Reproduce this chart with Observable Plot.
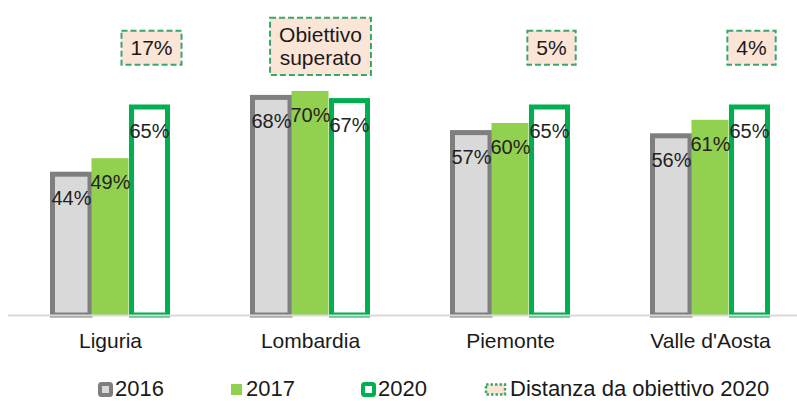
<!DOCTYPE html>
<html>
<head>
<meta charset="utf-8">
<script src="https://cdn.jsdelivr.net/npm/d3@7"></script>
<script src="https://cdn.jsdelivr.net/npm/@observablehq/plot@0.6"></script>
<style>
  html, body { margin: 0; padding: 0; background: #fff; }
  body { width: 797px; height: 401px; overflow: hidden; font-family: "Liberation Sans", Arial, sans-serif; }
  #legend { position: relative; width: 797px; height: 36px; color: #1a1a1a; font-size: 22px; }
  #legend .item { position: absolute; top: 12px; height: 24px; display: flex; align-items: center; line-height: 24px; }
  #legend svg { display: block; margin-right: 2px; }
</style>
</head>
<body>
<div id="chart"></div>
<div id="legend"></div>
<script>
// ---- data ----
const regions = ["Liguria", "Lombardia", "Piemonte", "Valle d'Aosta"];
const years = ["2016", "2017", "2020"];
const v2016 = [44, 68, 57, 56];
const v2017 = [49, 70, 60, 61];
const v2020 = [65, 67, 65, 65];
const distanza = ["17%", "Obiettivo\nsuperato", "5%", "4%"];
const legendLabels = ["2016", "2017", "2020", "Distanza da obiettivo 2020"];

const seriesByYear = {"2016": v2016, "2017": v2017, "2020": v2020};
const rows = years.flatMap(y => regions.map((r, i) => ({region: r, year: y, value: seriesByYear[y][i]})));
const annots = regions.map((r, i) => ({region: r, text: distanza[i]}));

const C16s = "#7f7f7f", C16f = "#d9d9d9", C17 = "#92d050", C20 = "#00b050";
const FONT = "Liberation Sans, Arial, sans-serif";

const byYear = y => rows.filter(d => d.year === y);
const lbl = d => d.value + "%";

const chart = Plot.plot({
  width: 797,
  height: 365,
  marginTop: 27,
  marginBottom: 50,
  marginLeft: 8,
  marginRight: 0,
  style: {fontFamily: FONT, color: "#262626", background: "#fff"},
  x: {domain: regions, range: [10, 810], paddingInner: 0.4, paddingOuter: 0.2},
  y: {domain: [0, 90], axis: null},
  marks: [
    Plot.barY(byYear("2016"), {x: "region", y: "value", fill: C16f, stroke: C16s, strokeWidth: 5, insetLeft: 2.5, insetRight: 80}),
    Plot.barY(byYear("2017"), {x: "region", y: "value", fill: C17, insetLeft: 41.5, insetRight: 41.5}),
    Plot.barY(byYear("2020"), {x: "region", y: "value", fill: "#fff", stroke: C20, strokeWidth: 5, insetLeft: 81.5, insetRight: 2.5}),
    Plot.ruleY([0], {stroke: "#d9d9d9", strokeWidth: 2}),
    Plot.text(byYear("2016"), {x: "region", y: "value", text: lbl, dx: -39, dy: 24, fontSize: 20, fill: "#222", lineAnchor: "middle"}),
    Plot.text(byYear("2017"), {x: "region", y: "value", text: lbl, dx: 0, dy: 24, fontSize: 20, fill: "#222", lineAnchor: "middle"}),
    Plot.text(byYear("2020"), {x: "region", y: "value", text: lbl, dx: 39, dy: 24, fontSize: 20, fill: "#222", lineAnchor: "middle"}),
    Plot.text(annots.filter(d => !d.text.includes("\n")), {x: "region", text: "text", frameAnchor: "top", dx: 41, dy: 21, fontSize: 21, fill: "#1a1a1a", lineAnchor: "middle"}),
    Plot.text(annots.filter(d => d.text.includes("\n")), {x: "region", text: "text", frameAnchor: "top", dx: 10, dy: 19, fontSize: 21, lineHeight: 1.1, fill: "#1a1a1a", lineAnchor: "middle"}),
    Plot.axisX({tickSize: 0, tickPadding: 18, fontSize: 21, fill: "#1a1a1a", label: null})
  ]
});
document.getElementById("chart").append(chart);

// boxes behind the annotation texts
const NS = "http://www.w3.org/2000/svg";
const annotTexts = new Set(distanza.map(s => s.replace(/\n/g, "")));
chart.querySelectorAll("text").forEach(t => {
  if (!annotTexts.has(t.textContent)) return;
  const b = t.getBBox();
  const padX = 9, padY = 5.5;
  const r = document.createElementNS(NS, "rect");
  r.setAttribute("x", b.x - padX);
  r.setAttribute("y", b.y - padY);
  r.setAttribute("width", b.width + 2 * padX);
  r.setAttribute("height", b.height + 2 * padY);
  r.setAttribute("fill", "#fbe5d6");
  r.setAttribute("stroke", "#3aa66a");
  r.setAttribute("stroke-width", 2);
  r.setAttribute("stroke-dasharray", "6 3");
  if (t.getAttribute("transform")) r.setAttribute("transform", t.getAttribute("transform"));
  t.parentNode.insertBefore(r, t);
});

// legend
const sw = [
  `<svg width="15" height="15"><rect x="2" y="2" width="11" height="11" rx="1.5" fill="${C16f}" stroke="${C16s}" stroke-width="4"/></svg>`,
  `<svg width="15" height="15"><rect x="2" y="2" width="11" height="11" fill="${C17}"/></svg>`,
  `<svg width="15" height="15"><rect x="2" y="2" width="11" height="11" rx="1.5" fill="#fff" stroke="${C20}" stroke-width="4"/></svg>`,
  `<svg width="24" height="15"><rect x="2" y="2.5" width="19" height="10" fill="#fbe5d6" stroke="#3aa66a" stroke-width="2.5" stroke-dasharray="2.5 2"/></svg>`
];
const lefts = [98, 229, 361, 484];
const leg = document.getElementById("legend");
legendLabels.forEach((l, i) => {
  const d = document.createElement("div");
  d.className = "item";
  d.style.left = lefts[i] + "px";
  d.innerHTML = sw[i] + `<span>${l}</span>`;
  leg.append(d);
});
</script>
</body>
</html>
